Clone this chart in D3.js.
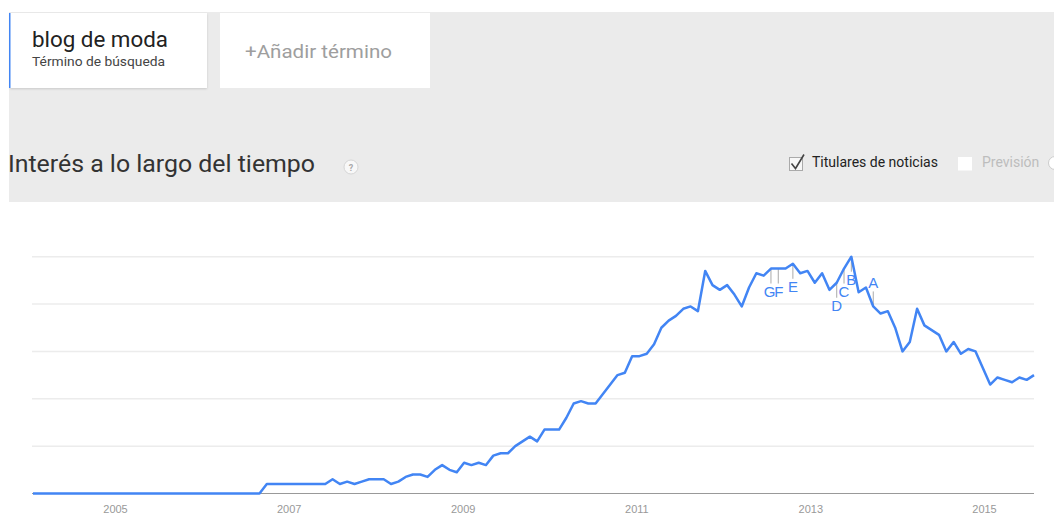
<!DOCTYPE html>
<html>
<head>
<meta charset="utf-8">
<script src="https://cdnjs.cloudflare.com/ajax/libs/d3/7.8.5/d3.min.js"></script>
<style>
  body { margin: 0; background: #fff; font-family: Roboto, Arial, sans-serif; }
  svg { display: block; }
</style>
</head>
<body>
<svg id="chart" width="1054" height="524"></svg>
<script>
// monthly search interest, Jan 2004 .. Jun 2015
var startYear = 2004;
var interest = [
  0,0,0,0,0,0,0,0,0,0,0,0,            // 2004
  0,0,0,0,0,0,0,0,0,0,0,0,            // 2005
  0,0,0,0,0,0,0,0,4,4,4,4,            // 2006
  4,4,4,4,4,6,4,5,4,5,6,6,            // 2007
  6,4,5,7,8,8,7,10,12,10,9,13,        // 2008
  12,13,12,16,17,17,20,22,24,22,27,27,  // 2009
  27,32,38,39,38,38,42,46,50,51,58,58,  // 2010
  59,63,70,73,75,78,79,77,94,88,86,88,  // 2011
  84,79,87,93,92,95,95,95,97,93,94,89,  // 2012
  93,86,89,95,100,85,87,79,76,77,70,60, // 2013
  64,78,71,69,67,60,64,59,61,60,53,46,  // 2014
  49,48,47,49,48,50                     // 2015
];
var yearLabels = [2005, 2007, 2009, 2011, 2013, 2015];
var gridValues = [20, 40, 60, 80, 100];
// news headline markers
var noteLetters = ["A", "B", "C", "D", "E", "F", "G"];
var noteMonths  = [115, 112, 111, 110, 104, 102, 101];
var noteAbove   = [true, false, false, false, false, false, false];
var noteNudge   = [0, 0, 0, 0, 0, 0.5, -1.5];

var svg = d3.select("#chart");
var blue = "#4285f4";

// ---- header area ----
svg.append("rect").attr("x", 9).attr("y", 12).attr("width", 1045).attr("height", 190).attr("fill", "#ebebeb");

var defs = svg.append("defs");
var f = defs.append("filter").attr("id", "shadow").attr("x", "-10%").attr("y", "-10%").attr("width", "120%").attr("height", "130%");
f.append("feDropShadow").attr("dx", 0).attr("dy", 1).attr("stdDeviation", 1).attr("flood-color", "#000").attr("flood-opacity", 0.15);

svg.append("rect").attr("x", 10).attr("y", 13).attr("width", 197).attr("height", 75).attr("fill", "#fff").attr("filter", "url(#shadow)");
svg.append("rect").attr("x", 9).attr("y", 13).attr("width", 1.5).attr("height", 75).attr("fill", blue);
svg.append("text").attr("x", 32).attr("y", 47).attr("font-size", 22).attr("fill", "#222")
  .attr("textLength", 136).attr("lengthAdjust", "spacingAndGlyphs").text("blog de moda");
svg.append("text").attr("x", 32).attr("y", 65.5).attr("font-size", 13.5).attr("fill", "#444")
  .attr("textLength", 133).attr("lengthAdjust", "spacingAndGlyphs").text("Término de búsqueda");

svg.append("rect").attr("x", 220).attr("y", 13).attr("width", 210).attr("height", 75).attr("fill", "#fff");
svg.append("text").attr("x", 245).attr("y", 58).attr("font-size", 19).attr("fill", "#9e9e9e")
  .attr("textLength", 147).attr("lengthAdjust", "spacingAndGlyphs").text("+Añadir término");

svg.append("text").attr("x", 8).attr("y", 172).attr("font-size", 24).attr("fill", "#333")
  .attr("textLength", 307).attr("lengthAdjust", "spacingAndGlyphs").text("Interés a lo largo del tiempo");
svg.append("circle").attr("cx", 351).attr("cy", 167).attr("r", 7).attr("fill", "#f8f8f8").attr("stroke", "#d6d6d6");
svg.append("text").attr("x", 351).attr("y", 170.5).attr("text-anchor", "middle").attr("font-size", 9).attr("font-weight", "bold").attr("fill", "#aaa").text("?");

// checkboxes
svg.append("rect").attr("x", 789.5).attr("y", 157.5).attr("width", 13).attr("height", 13).attr("fill", "#f7f7f7").attr("stroke", "#aaa");
svg.append("path").attr("d", "M791.5,163.5 L795.5,168.5 L804,154.5").attr("fill", "none").attr("stroke", "#444").attr("stroke-width", 1.6);
svg.append("text").attr("x", 812).attr("y", 167).attr("font-size", 14).attr("fill", "#222").text("Titulares de noticias");
svg.append("rect").attr("x", 958).attr("y", 157).attr("width", 14).attr("height", 13.5).attr("fill", "#fff");
svg.append("text").attr("x", 982).attr("y", 167).attr("font-size", 14).attr("fill", "#bdbdbd").text("Previsión");
svg.append("circle").attr("cx", 1055).attr("cy", 163).attr("r", 6.5).attr("fill", "#fff").attr("stroke", "#ccc");

// ---- chart ----
var x = d3.scaleLinear().domain([0, interest.length - 1]).range([33, 1034]);
var y = d3.scaleLinear().domain([0, 100]).range([493.5, 256.7]);
var xt = d3.scaleTime().domain([new Date(2005, 0, 1), new Date(2015, 0, 1)]).range([115, 984]);

svg.append("g").selectAll("line").data(gridValues).enter().append("line")
  .attr("x1", 32).attr("x2", 1034)
  .attr("y1", function(d) { return y(d); }).attr("y2", function(d) { return y(d); })
  .attr("stroke", "#ececec").attr("stroke-width", 1.5);

svg.append("line").attr("x1", 32).attr("x2", 1034).attr("y1", y(0)).attr("y2", y(0))
  .attr("stroke", "#999").attr("stroke-width", 1);

var axis = svg.append("g").attr("transform", "translate(0," + y(0) + ")")
  .call(d3.axisBottom(xt)
    .tickValues(yearLabels.map(function(d) { return new Date(d, 0, 1); }))
    .tickSize(0).tickPadding(12)
    .tickFormat(d3.timeFormat("%Y")));
axis.select(".domain").remove();
axis.selectAll("text").attr("fill", "#999").attr("font-size", 11).attr("font-family", "Arial, 'Liberation Sans', sans-serif");

// annotation ticks + letters
var notes = noteLetters.map(function(l, k) {
  return { letter: l, i: noteMonths[k], above: noteAbove[k], dx: noteNudge[k] };
});
var ng = svg.append("g");
ng.selectAll("line").data(notes).enter().append("line")
  .attr("x1", function(d) { return x(d.i); }).attr("x2", function(d) { return x(d.i); })
  .attr("y1", function(d) { return y(interest[d.i]); })
  .attr("y2", function(d) { return y(interest[d.i]) + (d.above ? -15 : 15); })
  .attr("stroke", "#aaa").attr("stroke-width", 1);

var line = d3.line()
  .x(function(d, i) { return x(i); })
  .y(function(d) { return y(d); });

svg.append("path").datum(interest)
  .attr("d", line)
  .attr("fill", "none")
  .attr("stroke", blue)
  .attr("stroke-width", 2.5)
  .attr("stroke-linejoin", "round");

ng.selectAll("text").data(notes).enter().append("text")
  .attr("x", function(d) { return x(d.i) + d.dx; })
  .attr("y", function(d) { return y(interest[d.i]) + (d.above ? -18 : 28); })
  .attr("text-anchor", "middle")
  .attr("font-size", 15)
  .attr("font-family", "Arial, 'Liberation Sans', sans-serif")
  .attr("fill", blue)
  .text(function(d) { return d.letter; });
</script>
</body>
</html>
